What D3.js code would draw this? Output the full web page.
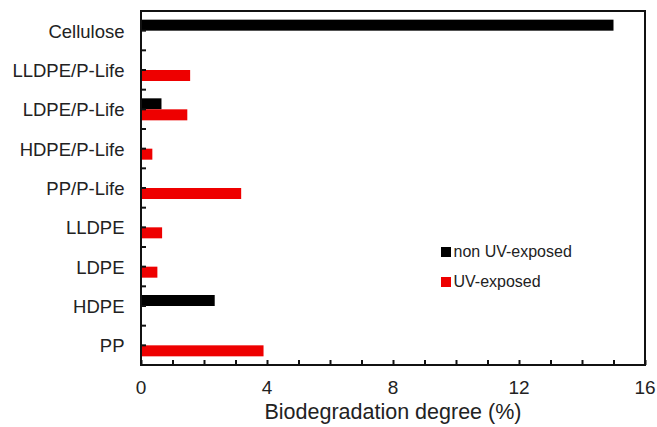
<!DOCTYPE html>
<html>
<head>
<meta charset="utf-8">
<script src="https://cdn.jsdelivr.net/npm/d3@7"></script>
<style>
  html, body { margin: 0; padding: 0; background: #fff; }
  svg { display: block; font-family: Arial, "Liberation Sans", sans-serif; }
</style>
</head>
<body>
<svg id="chart" width="657" height="427"></svg>
<script>
// Materials, top to bottom
const categories = ["Cellulose", "LLDPE/P-Life", "LDPE/P-Life", "HDPE/P-Life", "PP/P-Life", "LLDPE", "LDPE", "HDPE", "PP"];
// Biodegradation degree (%)
const nonUV = [15.0, 0, 0.65, 0, 0, 0, 0, 2.34, 0];
const uvExposed = [0, 1.56, 1.47, 0.36, 3.18, 0.67, 0.52, 0, 3.89];
const seriesNames = ["non UV-exposed", "UV-exposed"];
const xTickLabels = [0, 4, 8, 12, 16];

const colors = ["#000000", "#ee0000"];
const margin = { left: 141, right: 12, top: 11, bottom: 62 };
const W = 657, H = 427;
const svg = d3.select("#chart");

const x = d3.scaleLinear().domain([0, 16]).range([margin.left, W - margin.right]);
const y = d3.scaleBand().domain(categories).range([margin.top, H - margin.bottom]);
const barH = 11;

const g = svg.append("g");

// Bars: non UV-exposed above the category centre, UV-exposed below
const series = [nonUV, uvExposed];
series.forEach((vals, si) => {
  g.selectAll(null)
    .data(categories.map((c, i) => ({ c, v: vals[i] })).filter(d => d.v > 0))
    .enter().append("rect")
    .attr("x", x(0))
    .attr("y", d => y(d.c) + y.bandwidth() / 2 - (si === 0 ? barH : 0))
    .attr("width", d => x(d.v) - x(0))
    .attr("height", barH)
    .attr("fill", colors[si]);
});

// Frame
const x0 = x(0), x1 = x(16), y0 = margin.top, y1 = H - margin.bottom;
svg.append("rect")
  .attr("x", x0).attr("y", y0)
  .attr("width", x1 - x0).attr("height", y1 - y0)
  .attr("fill", "none").attr("stroke", "#111").attr("stroke-width", 2);

// X axis: inward ticks every unit, labels every 4
const xAxis = d3.axisBottom(x).tickValues(d3.range(0, 17, 1)).tickSize(-5).tickFormat("");
const xa = svg.append("g").attr("transform", `translate(0,${y1})`).call(xAxis);
xa.select(".domain").remove();
xa.selectAll(".tick line").attr("stroke", "#111").attr("stroke-width", 2);
svg.append("g").selectAll("text").data(xTickLabels).enter().append("text")
  .attr("x", d => x(d)).attr("y", y1 + 29)
  .attr("text-anchor", "middle").attr("font-size", 19).attr("fill", "#222")
  .text(d => d);

// Y axis: inward ticks at category centres and boundaries
const yTicks = [];
categories.forEach(c => { yTicks.push(y(c)); yTicks.push(y(c) + y.bandwidth() / 2); });
svg.append("g").selectAll("line").data(yTicks.filter(v => v > y0 + 1)).enter().append("line")
  .attr("x1", x0).attr("x2", x0 + 5)
  .attr("y1", d => d).attr("y2", d => d)
  .attr("stroke", "#111").attr("stroke-width", 2);

// Category labels
svg.append("g").selectAll("text").data(categories).enter().append("text")
  .attr("x", 124.5).attr("y", d => y(d) + y.bandwidth() / 2 + 7)
  .attr("text-anchor", "end").attr("font-size", 18.5).attr("fill", "#222")
  .text(d => d);

// Axis title
svg.append("text")
  .attr("x", (x0 + x1) / 2).attr("y", 419)
  .attr("text-anchor", "middle").attr("font-size", 21.5).attr("fill", "#222")
  .text("Biodegradation degree (%)");

// Legend
const legend = svg.append("g").attr("transform", "translate(441,247)");
seriesNames.forEach((name, i) => {
  const row = legend.append("g").attr("transform", `translate(0,${i * 30})`);
  row.append("rect").attr("width", 10).attr("height", 10).attr("fill", colors[i]);
  row.append("text").attr("x", 12.5).attr("y", 10).attr("font-size", 16).attr("fill", "#222").text(name);
});
</script>
</body>
</html>
